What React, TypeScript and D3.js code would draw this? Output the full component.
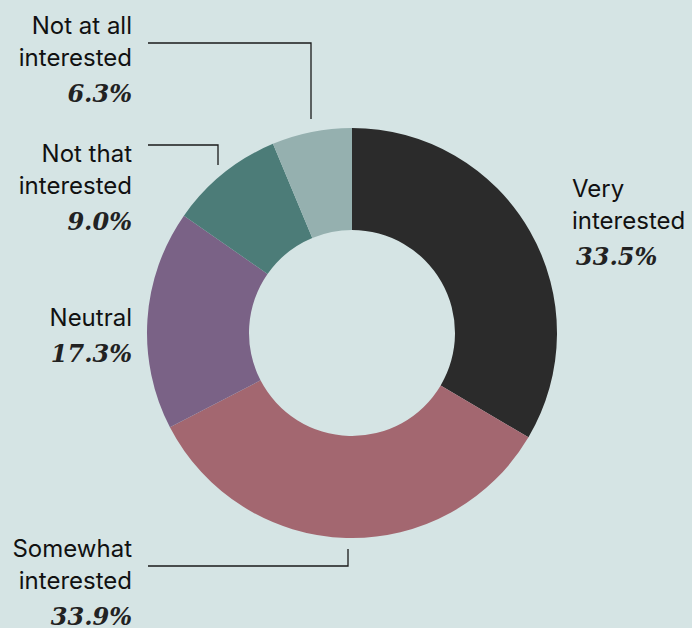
import React from "react";
import * as d3 from "d3";

const categories = ["Very interested", "Somewhat interested", "Neutral", "Not that interested", "Not at all interested"];
const values = [33.5, 33.9, 17.3, 9.0, 6.3];
const colors = ["#2b2b2b", "#a36770", "#7a6286", "#4c7c78", "#95b0af"];
const labelLines = [["Very", "interested"], ["Somewhat", "interested"], ["Neutral"], ["Not that", "interested"], ["Not at all", "interested"]];

const W = 692, H = 628;
const cx = 352, cy = 333, R = 205, r = 103;

// label layout: [x, first baseline, anchor]
const labelPos: [number, number, "start" | "end"][] = [
  [572, 197, "start"],
  [132, 557, "end"],
  [132, 326, "end"],
  [132, 162, "end"],
  [132, 34, "end"],
];

export default function App() {
  const pie = d3.pie<number>().sort(null).value((d) => d)(values);
  const arc = d3.arc<d3.PieArcDatum<number>>().innerRadius(r).outerRadius(R);
  const fmt = d3.format(".1f");
  const sans = "Inter, Roboto, sans-serif";
  const serif = "'DejaVu Serif', serif";

  const leaders: [number, number][][] = [
    [],
    [[148, 566], [348, 566], [348, 549]],
    [],
    [[148, 145], [218, 145], [218, 165]],
    [[148, 43], [311, 43], [311, 119]],
  ];
  const line = d3.line();

  return (
    <svg width={W} height={H} style={{ position: "absolute", left: 0, top: 0, background: "#d5e4e4" }}>
      <rect width={W} height={H} fill="#d5e4e4" />
      <g transform={`translate(${cx},${cy})`}>
        {pie.map((p, i) => (
          <path key={i} d={arc(p) || ""} fill={colors[i]} />
        ))}
      </g>
      {leaders.map((pts, i) =>
        pts.length ? <path key={i} d={line(pts) || ""} fill="none" stroke="#1a1a1a" strokeWidth={1.3} /> : null
      )}
      {categories.map((c, i) => {
        const [x, y, anchor] = labelPos[i];
        const lines = labelLines[i];
        return (
          <g key={c}>
            {lines.map((t, j) => (
              <text key={j} x={x} y={y + j * 31.5} textAnchor={anchor} fontFamily={sans} fontSize={24} fill="#111">
                {t}
              </text>
            ))}
            <text
              x={x + (anchor === "start" ? 4 : 0)}
              y={y + (lines.length - 1) * 31.5 + 36}
              textAnchor={anchor}
              fontFamily={serif}
              fontStyle="italic"
              fontWeight="bold"
              fontSize={24}
              fill="#222"
            >
              {fmt(values[i])}%
            </text>
          </g>
        );
      })}
    </svg>
  );
}
